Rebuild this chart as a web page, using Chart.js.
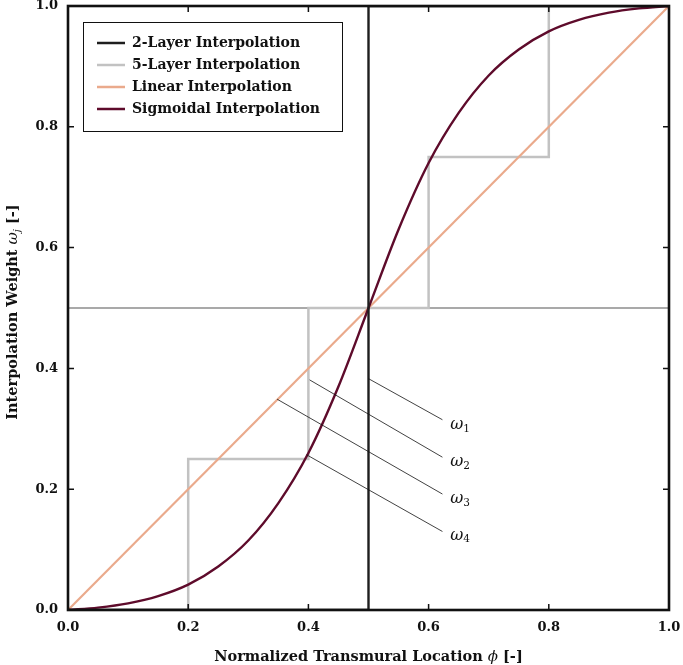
<!DOCTYPE html>
<html>
<head>
<meta charset="utf-8">
<script src="https://cdn.jsdelivr.net/npm/chart.js@4.4.1/dist/chart.umd.min.js"></script>
<style>
  html, body { margin: 0; padding: 0; background: #fff; }
  #wrap { width: 683px; height: 665px; }
</style>
</head>
<body>
<div id="wrap"><canvas id="weights"></canvas></div>
<script>
// transmural location samples and sigmoidal weights
var phi      = [0, 0.05, 0.1, 0.15, 0.2, 0.25, 0.3, 0.35, 0.4, 0.45, 0.5, 0.55, 0.6, 0.65, 0.7, 0.75, 0.8, 0.85, 0.9, 0.95, 1];
var sigmoidW = [0, 0.004, 0.011, 0.023, 0.042, 0.072, 0.115, 0.177, 0.26, 0.37, 0.5, 0.63, 0.74, 0.823, 0.885, 0.928, 0.958, 0.977, 0.989, 0.996, 1];

// layered (step) interpolation: boundaries and weight reached at each boundary
var edges2  = [0, 0.5, 1];
var levels2 = [0, 1, 1];
var edges5  = [0, 0.2, 0.4, 0.6, 0.8, 1];
var levels5 = [0, 0.25, 0.5, 0.75, 1, 1];

var linearX = [0, 1];
var linearW = [0, 1];

var midX = [0, 1];
var midW = [0.5, 0.5];

var tickVals = [0, 0.2, 0.4, 0.6, 0.8, 1.0];

// omega pointer lines: [x0, y0, x1, y1] in data units, and label anchors
var omegaNames = ["1", "2", "3", "4"];
var omegaLines = [
  [0.500, 0.383, 0.623, 0.315],
  [0.402, 0.381, 0.623, 0.253],
  [0.348, 0.349, 0.623, 0.192],
  [0.397, 0.257, 0.623, 0.130]
];
var omegaLabelX = [0.636, 0.636, 0.636, 0.636];
var omegaLabelY = [0.306, 0.245, 0.184, 0.123];

function pts(xs, ys) {
  return xs.map(function (x, i) { return { x: x, y: ys[i] }; });
}

var datasets = [
  { label: "2-Layer Interpolation", data: pts(edges2, levels2), borderColor: "#1e1e1e", backgroundColor: "#1e1e1e", borderWidth: 2.4, stepped: true, order: 1 },
  { label: "5-Layer Interpolation", data: pts(edges5, levels5), borderColor: "#c2c2c2", backgroundColor: "#c2c2c2", borderWidth: 2.5, stepped: true, order: 4 },
  { label: "Linear Interpolation", data: pts(linearX, linearW), borderColor: "#eaaa8c", backgroundColor: "#eaaa8c", borderWidth: 2.2, order: 3 },
  { label: "Sigmoidal Interpolation", data: pts(phi, sigmoidW), borderColor: "#5e0b2b", backgroundColor: "#5e0b2b", borderWidth: 2.4, cubicInterpolationMode: "monotone", order: 2 },
  { label: "", data: pts(midX, midW), borderColor: "#555555", borderWidth: 1.2, order: 5 }
];
omegaLines.forEach(function (l) {
  datasets.push({ label: "", data: [{ x: l[0], y: l[1] }, { x: l[2], y: l[3] }], borderColor: "#111111", borderWidth: 0.8, order: 0 });
});

var serif = "'DejaVu Serif', serif";

// draw a run of [text, font, dy] pieces centred on (0,0) of the current transform
function drawPieces(ctx, pieces) {
  var total = 0;
  pieces.forEach(function (p) { ctx.font = p[1]; total += ctx.measureText(p[0]).width; });
  var x = -total / 2;
  pieces.forEach(function (p) {
    ctx.font = p[1];
    ctx.fillText(p[0], x, p[2] || 0);
    x += ctx.measureText(p[0]).width;
  });
}

var framePlugin = {
  id: "frame",
  beforeDraw: function (chart) {
    var lg = chart.legend, a = chart.chartArea, ctx = chart.ctx;
    lg.left = a.left + 21;
    lg.top = a.top + 22;
    ctx.save();
    ctx.fillStyle = "#fff";
    ctx.strokeStyle = "#111";
    ctx.lineWidth = 1;
    ctx.fillRect(a.left + 15.5, a.top + 16.5, 259, 109);
    ctx.strokeRect(a.left + 15.5, a.top + 16.5, 259, 109);
    ctx.restore();
  },
  afterDraw: function (chart) {
    var ctx = chart.ctx, a = chart.chartArea;
    var xs = chart.scales.x, ys = chart.scales.y;
    ctx.save();
    // inward ticks on all four sides
    ctx.strokeStyle = "#111";
    ctx.lineWidth = 1.5;
    tickVals.forEach(function (v) {
      var px = xs.getPixelForValue(v), py = ys.getPixelForValue(v);
      ctx.beginPath();
      ctx.moveTo(px, a.bottom); ctx.lineTo(px, a.bottom - 6);
      ctx.moveTo(px, a.top); ctx.lineTo(px, a.top + 6);
      ctx.moveTo(a.left, py); ctx.lineTo(a.left + 6, py);
      ctx.moveTo(a.right, py); ctx.lineTo(a.right - 6, py);
      ctx.stroke();
    });
    // frame
    ctx.lineWidth = 2.6;
    ctx.strokeRect(a.left, a.top, a.right - a.left, a.bottom - a.top);
    // omega labels
    ctx.fillStyle = "#111";
    ctx.textBaseline = "middle";
    ctx.textAlign = "left";
    omegaNames.forEach(function (n, i) {
      var px = xs.getPixelForValue(omegaLabelX[i]), py = ys.getPixelForValue(omegaLabelY[i]);
      ctx.font = "italic 16px " + serif;
      ctx.fillText("\u03c9", px, py);
      var w = ctx.measureText("\u03c9").width;
      ctx.font = "10.5px " + serif;
      ctx.fillText(n, px + w, py + 4);
    });
    // axis titles
    var bold = "bold 14.5px " + serif, ital = "italic 15px " + serif;
    ctx.save();
    ctx.translate((a.left + a.right) / 2, 657);
    drawPieces(ctx, [["Normalized Transmural Location ", bold], ["\u03d5", ital], [" [-]", bold]]);
    ctx.restore();
    ctx.save();
    ctx.translate(13, (a.top + a.bottom) / 2 + 4);
    ctx.rotate(-Math.PI / 2);
    drawPieces(ctx, [["Interpolation Weight ", bold], ["\u03c9", ital], ["j", "italic 10px " + serif, 4], [" [-]", bold]]);
    ctx.restore();
    ctx.restore();
  }
};

new Chart(document.getElementById("weights"), {
  type: "line",
  data: { datasets: datasets },
  options: {
    responsive: true,
    maintainAspectRatio: false,
    animation: false,
    layout: { padding: { top: 6, right: 14, left: 0, bottom: 0 } },
    elements: { point: { radius: 0, hoverRadius: 0 }, line: { tension: 0 } },
    scales: {
      x: {
        type: "linear", min: 0, max: 1,
        afterFit: function (s) { s.height = 55; s.paddingLeft = 0; s.paddingRight = 0; },
        afterBuildTicks: function (s) { s.ticks = tickVals.map(function (v) { return { value: v }; }); },
        grid: { display: false, drawTicks: false },
        border: { display: false },
        ticks: { padding: 10, color: "#111", font: { family: serif, size: 13, weight: "bold" }, callback: function (v) { return v.toFixed(1); } }
      },
      y: {
        type: "linear", min: 0, max: 1,
        afterFit: function (s) { s.width = 68; s.paddingTop = 0; s.paddingBottom = 0; },
        afterBuildTicks: function (s) { s.ticks = tickVals.map(function (v) { return { value: v }; }); },
        grid: { display: false, drawTicks: false },
        border: { display: false },
        ticks: { padding: 10, color: "#111", font: { family: serif, size: 13, weight: "bold" }, callback: function (v) { return v.toFixed(1); } }
      }
    },
    plugins: {
      tooltip: { enabled: false },
      legend: {
        position: "chartArea",
        align: "start",
        labels: {
          boxWidth: 28,
          boxHeight: 2.5,
          padding: 8,
          color: "#111",
          font: { family: serif, size: 14, weight: "bold" },
          filter: function (item) { return item.text !== ""; },
          sort: function (a, b) { return a.datasetIndex - b.datasetIndex; },
          generateLabels: function (chart) {
            return Chart.defaults.plugins.legend.labels.generateLabels(chart).map(function (l) {
              l.lineWidth = 0;
              l.fillStyle = l.strokeStyle;
              return l;
            });
          }
        }
      }
    }
  },
  plugins: [framePlugin]
});
</script>
</body>
</html>
